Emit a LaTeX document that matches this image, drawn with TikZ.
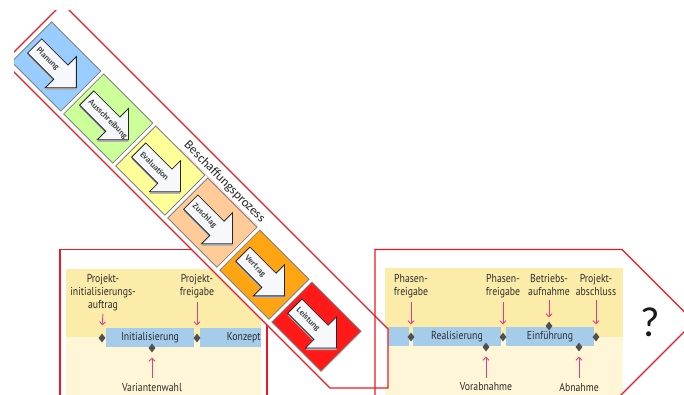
\documentclass[tikz,border=0pt]{standalone}
\usepackage{fontspec}
\setmainfont{Carlito}
\newfontfamily\condfont[FakeStretch=0.85]{PT Sans}
\usetikzlibrary{shapes.geometric,arrows.meta}
\definecolor{bandred}{RGB}{240,24,32}
\definecolor{cBlue}{RGB}{153,204,255}
\definecolor{cGreen}{RGB}{204,255,153}
\definecolor{cYellow}{RGB}{255,255,153}
\definecolor{cPeach}{RGB}{255,204,153}
\definecolor{cOrange}{RGB}{255,165,20}
\definecolor{cRed}{RGB}{255,25,25}
\definecolor{arrowfill}{RGB}{246,248,252}
\definecolor{panelDark}{RGB}{252,236,170}
\definecolor{panelLight}{RGB}{254,246,214}
\definecolor{barBlue}{RGB}{166,204,236}
\definecolor{msPink}{RGB}{228,60,130}
\definecolor{msGray}{RGB}{80,80,80}
\definecolor{txtGray}{RGB}{45,45,45}
\begin{document}
\begin{tikzpicture}[x=1pt,y=-1pt,
  redline/.style={draw=bandred, line width=1.3pt},
  stagebox/.style={draw=black!50, line width=0.8pt},
  stagearrow/.style={draw=black!85, fill=arrowfill, line width=0.8pt, line join=miter},
  stagetext/.style={font=\fontsize{8.5}{9}\selectfont\bfseries, text=black!75, anchor=west, transform shape, inner sep=0pt},
  ms/.style={diamond, fill=msGray, minimum width=7pt, minimum height=9pt, inner sep=0pt},
  bar/.style={fill=barBlue},
  lbl/.style={font=\condfont\fontsize{11.5}{13}\selectfont, text=txtGray, align=center, inner sep=0pt, anchor=north},
  barlbl/.style={font=\condfont\fontsize{11.5}{12}\selectfont, text=txtGray, inner sep=0pt},
  pin/.style={draw=msPink, line width=0.9pt, -{Straight Barb[length=3pt,width=6pt]}},
]
\useasboundingbox (0,0) rectangle (684,394);
\clip (0,0) rectangle (684,394);

% ---------- left box ----------
\fill[panelDark] (66,269) rectangle (261,337);
\fill[panelLight] (66,337) rectangle (261,400);
\fill[bar] (106,328) rectangle (194,347);
\fill[bar] (200,328) rectangle (261,347);
\node[barlbl] (init) at (150,337.5) {Initialisierung};
\node[barlbl, anchor=east] (konz) at (261,337.5) {Konzept};
\node[ms] (dA) at (102,338) {};
\node[ms] (dB) at (197,338) {};
\node[ms] (dC) at (152,348) {};
\node[lbl] (tA) at (103,274) {Projekt-\\initialisierungs-\\auftrag};
\node[lbl] (tB) at (197,274) {Projekt-\\freigabe};
\node[barlbl] (tC) at (152,387) {Variantenwahl};
\draw[pin, shorten <=3pt, shorten >=8pt] (tA.south) -- (dA.north);
\draw[pin, shorten <=4pt, shorten >=8pt] (tB.south) -- (dB.north);
\draw[pin, shorten <=5pt, shorten >=5pt] (tC.north) -- (dC.south);
\draw[redline] (60,400) -- (60,249.5) -- (267,249.5) -- (267,400);

% ---------- right panel ----------
\fill[panelDark] (385,268) rectangle (623,337);
\fill[panelLight] (385,337) rectangle (623,400);
\fill[bar] (385,327) rectangle (409,346);
\fill[bar] (413,327) rectangle (501,346);
\fill[bar] (506,327) rectangle (594,346);
\node[barlbl] (real) at (457,337) {Realisierung};
\node[barlbl] (einf) at (550,337) {Einführung};
\node[ms] (d1) at (411,337) {};
\node[ms] (d2) at (503,337) {};
\node[ms] (d3) at (596,337) {};
\node[ms] (d4) at (486,347) {};
\node[ms] (d5) at (579,347) {};
\node[ms] (d6) at (549,326) {};
\node[lbl] (t1) at (411,274) {Phasen-\\freigabe};
\node[lbl] (t2) at (503,274) {Phasen-\\freigabe};
\node[lbl] (t3) at (549,274) {Betriebs-\\aufnahme};
\node[lbl] (t4) at (596,274) {Projekt-\\abschluss};
\node[barlbl] (t5) at (486,387) {Vorabnahme};
\node[barlbl] (t6) at (579,387) {Abnahme};
\draw[pin, shorten <=4pt, shorten >=8pt] (t1.south) -- (d1.north);
\draw[pin, shorten <=4pt, shorten >=8pt] (t2.south) -- (d2.north);
\draw[pin, shorten <=4pt, shorten >=4pt] (t3.south) -- (d6.north);
\draw[pin, shorten <=4pt, shorten >=8pt] (t4.south) -- (d3.north);
\draw[pin, shorten <=5pt, shorten >=5pt] (t5.north) -- (d4.south);
\draw[pin, shorten <=5pt, shorten >=5pt] (t6.north) -- (d5.south);

% ---------- band ----------
\begin{scope}
\clip (14,10) rectangle (684,394);
\path[fill=white] (62.5,3.5) -- (388,329) -- (388,388) -- (330,388) -- (4,62) -- cycle;
\begin{scope}[rotate=-45]
\foreach \i/\c/\t in {0/cBlue/Planung, 1/cGreen/Ausschreibung, 2/cYellow/Evaluation, 3/cPeach/Zuschlag, 4/cOrange/Vertrag, 5/cRed/Leistung} {
  \pgfmathsetmacro\u{52+73.6*\i}
  \draw[stagebox, fill=\c] (\u,-21) rectangle (\u+69.5,35.5);
  \fill[black!30] (\u+6.5,-0.5) -- (\u+43.5,-0.5) -- (\u+43.5,-12.5) -- (\u+65.5,9.5) -- (\u+43.5,31.5) -- (\u+43.5,19.5) -- (\u+6.5,19.5) -- cycle;
  \draw[stagearrow] (\u+5,-2) -- (\u+42,-2) -- (\u+42,-14) -- (\u+64,8) -- (\u+42,30) -- (\u+42,18) -- (\u+5,18) -- cycle;
  \node[stagetext] (st\i) at (\u+9,8) {\t};
}
\node[font=\fontsize{13}{13}\selectfont, text=black!85, transform shape, inner sep=0pt] (bp) at (287.5,-30) {Beschaffungsprozess};
\draw[bandred!60, densely dotted, line width=0.6pt] (bp.south west) ++(0,2) -- ([yshift=-2pt]bp.south east);
\end{scope}
\draw[redline] (62.5,3.5) -- (388,329) -- (388,388) -- (330,388) -- (4,62) -- cycle;
\end{scope}

% ---------- right box ----------
\draw[redline] (375,400) -- (375,249.5) -- (622,249.5) -- (694.25,321.75) -- (620,396);
\node[font=\fontsize{42}{42}\selectfont, text=black!90, inner sep=0pt] (q) at (650,322) {?};
\end{tikzpicture}
\end{document}
